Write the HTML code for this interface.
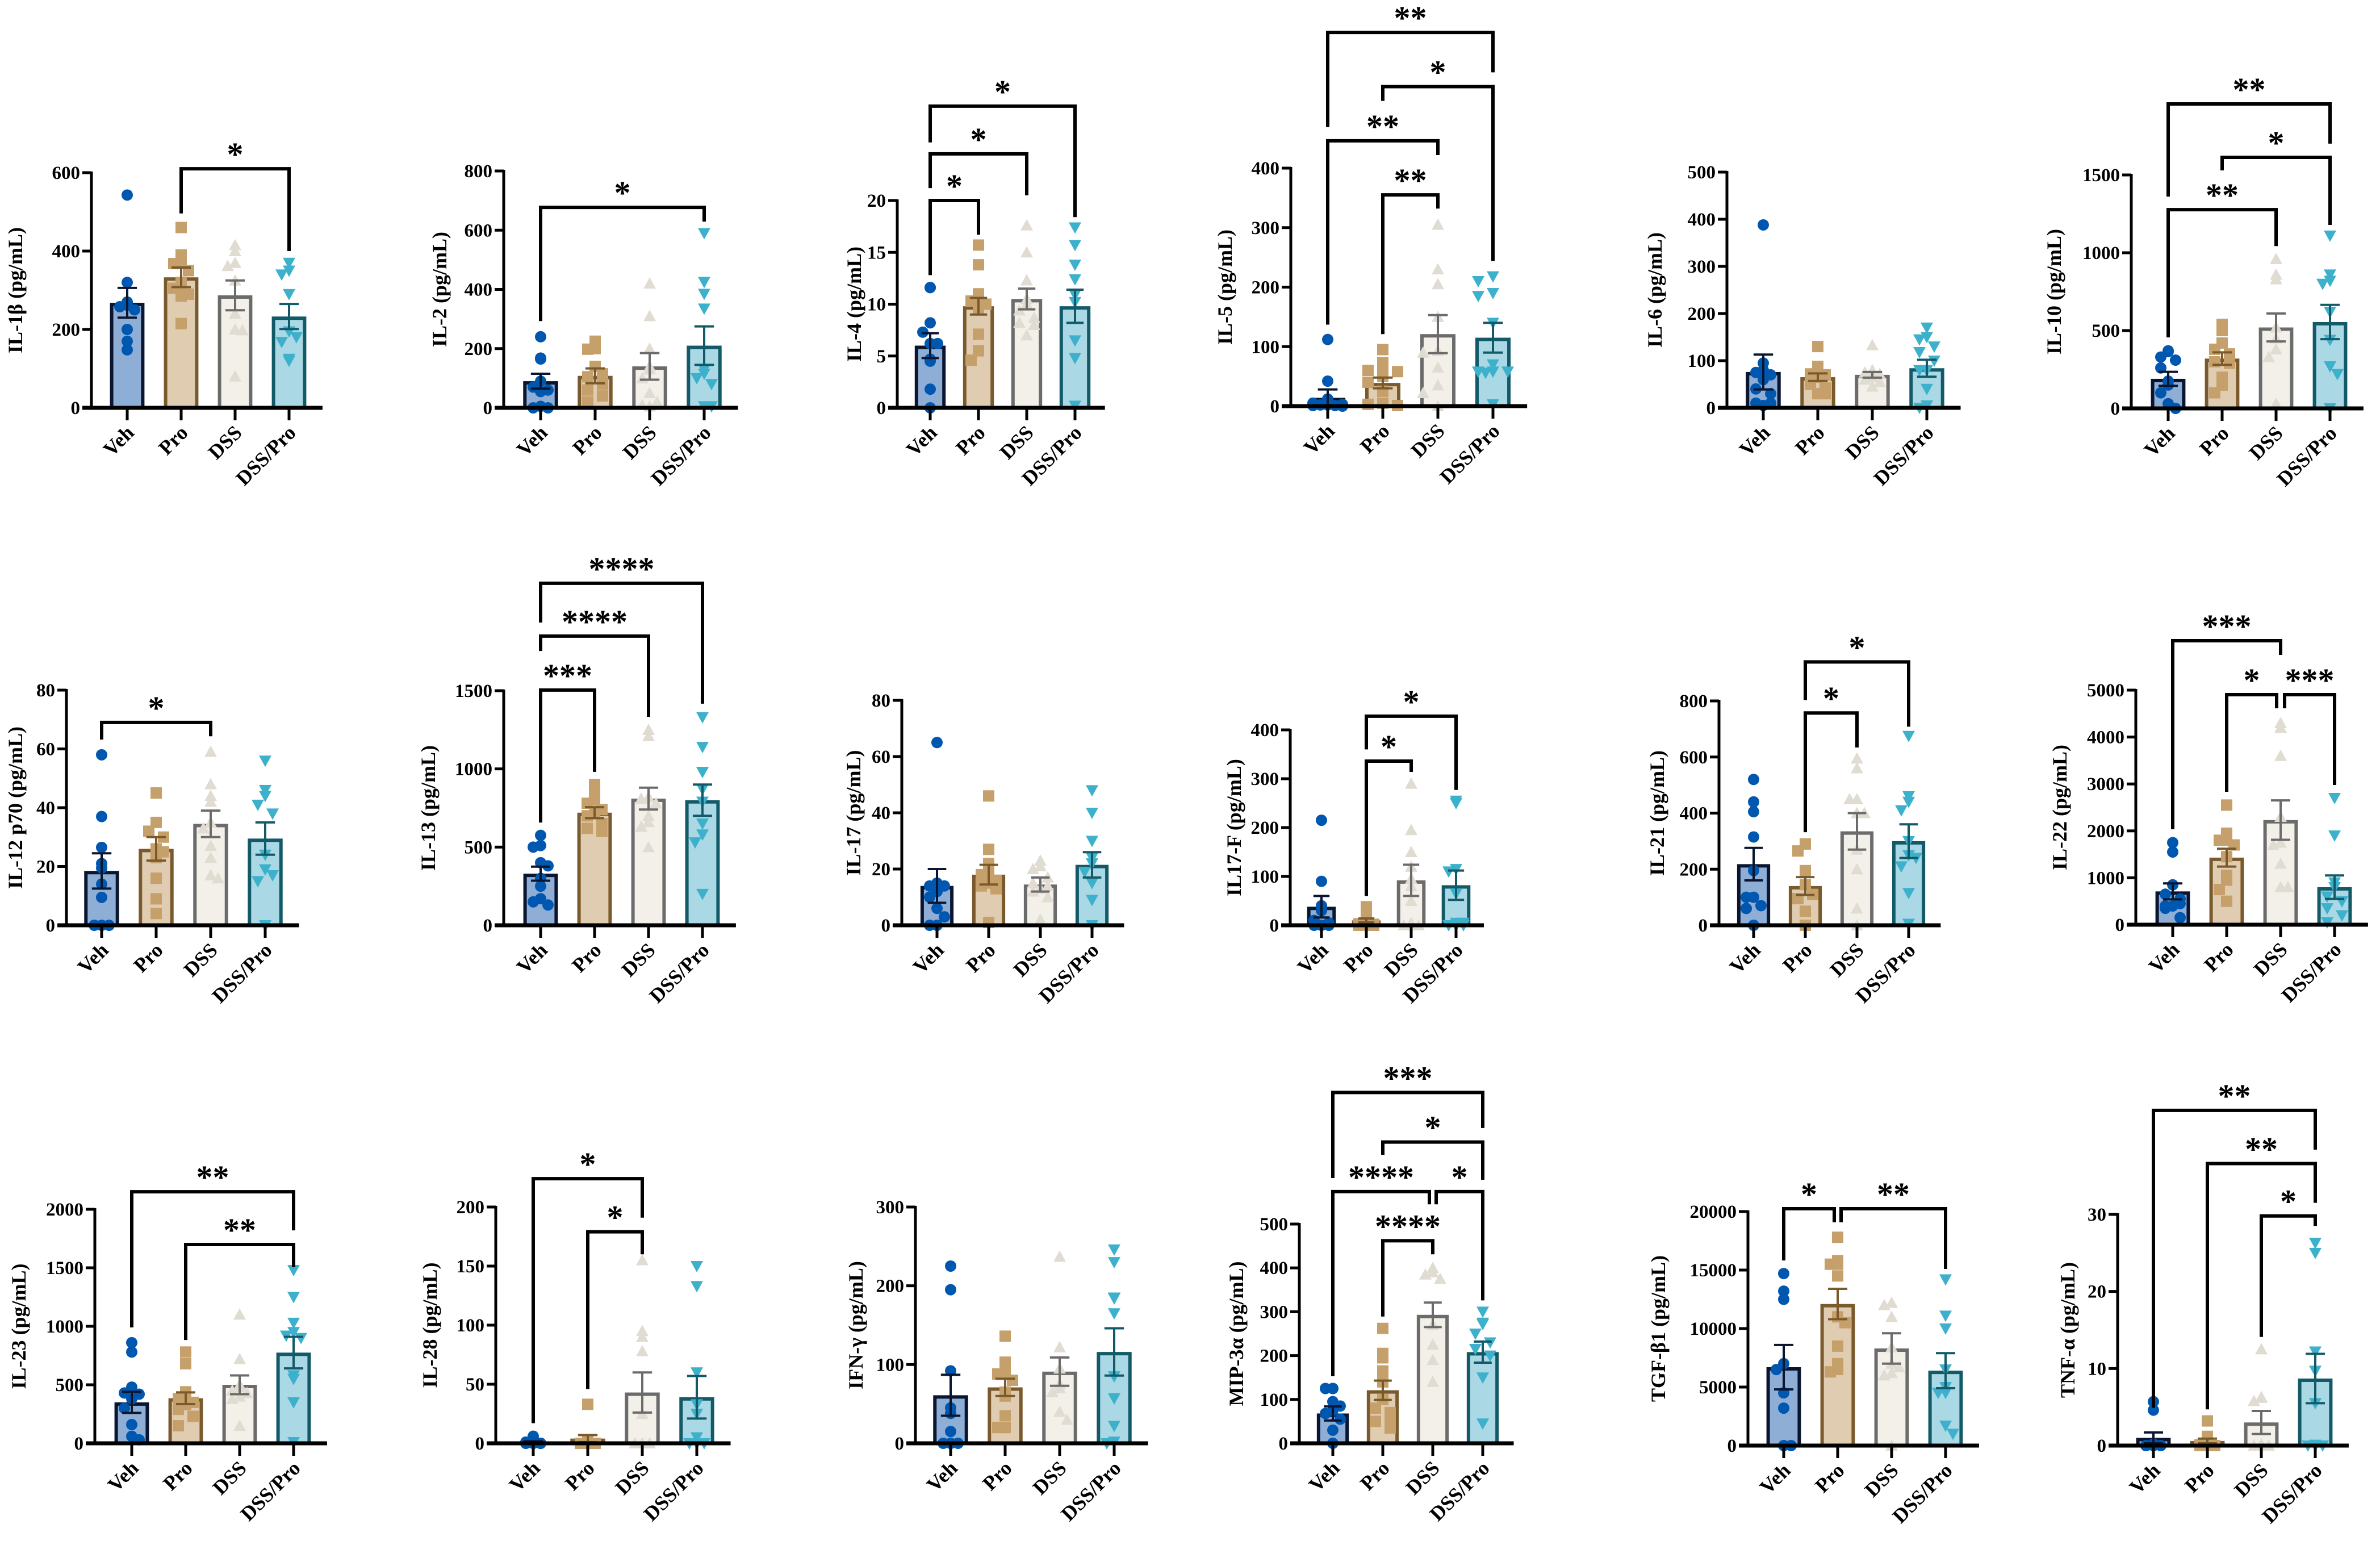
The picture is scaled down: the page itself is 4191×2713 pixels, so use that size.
<!DOCTYPE html>
<html><head><meta charset="utf-8"><style>
html,body{margin:0;padding:0;background:#fff;}
svg{display:block;}
text{font-family:"Liberation Serif","Times New Roman",serif;font-weight:bold;fill:#000;}
</style></head><body>
<svg id="fig" width="4191" height="2713" viewBox="0 0 4191 2713" xmlns="http://www.w3.org/2000/svg"></svg>
<script>
const groups = ["Veh","Pro","DSS","DSS/Pro"];
const titles = ["IL-1β (pg/mL)","IL-2 (pg/mL)","IL-4 (pg/mL)","IL-5 (pg/mL)","IL-6 (pg/mL)","IL-10 (pg/mL)",
"IL-12 p70 (pg/mL)","IL-13 (pg/mL)","IL-17 (pg/mL)","IL17-F (pg/mL)","IL-21 (pg/mL)","IL-22 (pg/mL)",
"IL-23 (pg/mL)","IL-28 (pg/mL)","IFN-γ (pg/mL)","MIP-3α (pg/mL)","TGF-β1 (pg/mL)","TNF-α (pg/mL)"];
const yMax = [600,800,20,400,500,1500, 80,1500,80,400,800,5000, 2000,200,300,500,20000,30];
const tickStep = [200,200,5,100,100,500, 20,500,20,100,200,1000, 500,50,100,100,5000,10];
const means = [
[268,333,287,233],[90,108,140,210],[6.0,9.8,10.5,9.8],[14,39,121,115],[76,65,70,84],[190,320,520,555],
[18.5,26,34.5,29.5],[330,720,810,800],[14,18,14.5,21.5],[38,10,92,82],[218,140,335,300],[710,1430,2230,800],
[350,385,500,775],[1,4,43,39],[61,71,91,116],[68,121,293,208],[6700,12100,8300,6400],[1,0.6,3.0,8.7]];
const sems = [
[38,25,38,32],[25,25,45,65],[1.2,0.8,1.0,1.6],[14,9,32,25],[37,8,6,18],[45,40,90,110],
[6,4,4.5,5.5],[45,35,70,100],[6,3.5,2.5,4.5],[22,4,32,30],[58,32,65,60],[170,190,420,250],
[90,50,80,135],[0.7,3,17,18],[26,11,18,30],[16,22,28,24],[1900,1300,1300,1500],[0.7,0.3,1.5,3.2]];
const points = [
[[543,320,270,262,250,258,200,170,148],[460,390,370,368,350,320,305,310,285,290,215],[400,415,370,362,325,240,200,198,80],[370,340,350,290,195,180,168,120,125]],
[[240,168,165,90,70,60,55,5,0,0],[225,200,198,140,115,105,80,60,40,20],[420,310,200,140,130,100,50,20,5,10],[590,425,385,335,130,115,100,80,5,5]],
[[11.6,11.6,8.2,7.3,6.2,6.2,4.7,4.5,1.8,0],[15.7,13.8,11.0,10.6,10.3,10.0,9.6,7.1,5.5,4.6],[17.6,15.0,12.3,10.5,10.0,9.4,8.7,8.0,8.2,7.0],[17.4,15.7,13.8,12.4,10.9,10.2,6.5,4.8,0.2]],
[[112,42,12,5,3,2,2,1,1,0],[95,73,60,58,55,50,40,25,5,3,1],[305,230,205,150,93,90,65,35,22,0],[218,210,190,185,140,70,58,58,58,56,3]],
[[388,95,80,75,70,60,40,30,10,10,5],[130,88,78,72,70,65,50,42,30,30],[133,80,78,75,72,65,60,55,45],[170,150,145,130,118,100,80,80,40,5,0]],
[[370,365,330,310,260,175,150,100,30,0],[540,500,420,380,350,300,290,200,150,100],[960,860,830,520,450,380,330,30],[1110,860,800,820,620,440,270,220,0]],
[[58,37,26.5,21,19.5,14,9.5,0,0,0],[45,45,35,32,30,26,25,23,16,9,4],[59,48,44,42,35,33,27,23,17,16],[56,46,44,41,38,24,19,17,15,0]],
[[575,510,500,400,380,300,250,170,130,150],[900,870,800,780,740,720,700,650,620,600],[1250,1210,820,810,780,700,660,630,500],[1330,1140,980,980,870,790,650,580,530,200]],
[[65,15,14,14,14,12,10,6,3,0,0],[46,27,22,19,18,16,15,14,13,1],[23,21,20,17,15,14,13,12,10,2],[48,40,30,24,22,19,15,9,0]],
[[215,90,40,30,10,5,3,0,0,0],[38,28,5,3,2,0,0,0,0],[290,195,150,120,95,80,50,5,0,0],[255,250,115,110,65,5,5,0,0,0]],
[[520,440,405,315,195,100,100,70,60,0],[290,290,265,195,145,110,95,50,0],[595,560,450,450,400,400,270,200,60,0],[675,460,440,410,300,250,240,210,115,5]],
[[1750,1550,850,650,550,450,400,400,350,150],[2550,1950,1800,1800,1700,1450,1050,950,750,500],[4300,4200,3600,2300,1750,1700,1300,800,800],[2700,1900,900,800,600,500,500,350,200,50]],
[[860,780,480,430,420,380,300,160,60,30],[780,680,440,400,380,350,330,290,230,150],[1100,720,500,480,450,430,400,380,150],[1480,1250,1030,950,920,900,580,550,350,10]],
[[6,2,1,0,0,0,0,0,0,0],[33,2,1,0,0,0,0,0,0],[155,95,90,78,25,0,0,0,0,0],[150,133,60,33,25,5,0,0,0,0]],
[[225,195,92,45,38,15,0,0,0,0],[136,103,90,90,88,80,65,60,35,20,20],[237,122,95,75,70,65,40,30],[246,230,185,184,165,85,57,22,0,2]],
[[125,125,125,95,85,75,68,55,30,0],[262,205,195,165,140,100,80,70,50,45,35],[400,390,385,375,270,270,225,190,140],[300,275,272,250,230,215,200,150,45]],
[[14700,13200,12500,7000,6500,4500,3200,0,0],[17800,15800,15500,15500,14500,11000,10500,8500,7000,6500,6300],[12200,12200,12000,11000,8400,7000,6700,6200,6000,0],[14200,11100,10000,6500,5000,4500,4500,1700,1000]],
[[5.7,4.6,0.2,0,0,0,0,0,0],[3.2,1.2,0.6,0.1,0,0,0,0,0],[12.5,6.3,6.2,5.8,0.2,0,0,0,0],[26.3,25.0,12.2,9.7,5.5,0.1,0,0,0]]];
const sigs = [
[[1,3,610,496,400,"*"]],
[[0,3,677,293,629,"*"]],
[[0,1,20.0,12.8,16.7,"*"],[0,2,24.5,21.2,20.5,"*"],[0,3,29.1,25.6,18.4,"*"]],
[[1,2,355,121,332,"**"],[0,2,446,137,422,"**"],[1,3,537,513,244,"*"],[0,3,628,469,561,"**"]],
[],
[[0,2,1277,456,1043,"**"],[1,3,1613,1529,1179,"*"],[0,3,1956,1361,1701,"**"]],
[[0,2,69,63.2,64.3,"*"]],
[[0,1,1504,657,981,"***"],[0,2,1849,1754,1333,"****"],[0,3,2187,1936,1417,"****"]],
[],
[[1,2,336,60,314,"*"],[1,3,428,360,277,"*"]],
[[1,2,757,332,634,"*"],[1,3,939,803,708,"*"]],
[[0,2,6053,2034,5750,"***"],[1,2,4903,2833,4613,"*"],[2,3,4903,4613,2978,"***"]],
[[0,3,2150,990,1820,"**"],[1,3,1699,883,1505,"**"]],
[[0,2,224,17,191,"*"],[1,2,179,46,160,"*"]],
[],
[[1,2,462,289,431,"****"],[0,2,574,153,545,"****"],[2,3,574,545,326,"*"],[1,3,687,658,601,"*"],[0,3,800,605,719,"***"]],
[[0,1,20240,15820,19080,"*"],[1,3,20240,19080,15100,"**"]],
[[2,3,29.8,14.1,28.5,"*"],[1,3,36.6,4.7,31.5,"**"],[0,3,43.5,4.9,38.4,"**"]]];
const layout = [
[161,224,95,718,304,27],[887,952,96,718,301,774],[1580,1638,85,718,353,1504],[2273,2338,97,715,296,2157],[3041,3105,96,718,303,2914],[3753,3818,95,719,308,3617],
[117,179,96,1629,1215,27],[887,952,95,1629,1216,754],[1588,1650,91,1629,1233,1503],[2272,2327,79,1629,1285,2173],[3027,3088,91,1629,1234,2918],[3761,3826,95,1628,1215,3627],
[167,232,95,2541,2129,33],[873,939,96,2541,2125,757],[1612,1674,96,2541,2125,1507],[2288,2347,88,2541,2155,2177],[3078,3141,95,2545,2133,2920],[3729,3792,95,2545,2138,3641]];
const fills=["#8eaed6","#e0ccb1","#f3f0ea","#aad8e4"];
const strokes=["#0a1630","#7a5a2c","#6b6b6b","#135a68"];
const ptCol=["#0057b0","#c6a06a","#e1dcd2","#3db0cc"];
const ns="http://www.w3.org/2000/svg";
const svg=document.getElementById('fig');
function mk(tag,attrs,parent){const e=document.createElementNS(ns,tag);for(const k in attrs)e.setAttribute(k,attrs[k]);(parent||svg).appendChild(e);return e;}
const jointOff={"11-1-2":[0,-7],"11-2-3":[7,0],"15-0-2":[0,-6],"15-2-3":[6,0],"16-0-1":[0,-6],"16-1-3":[6,0]};

for(let p=0;p<18;p++){
  const [ax,b0,sp,y0,yt,tx]=layout[p];
  const g=mk('g',{});
  
  
  const Y=v=>y0-(v/yMax[p])*(y0-yt);
  const X=i=>b0+i*sp;
  const bw=sp*0.64;
  const xEnd=X(3)+sp*0.62;
  for(let i=0;i<4;i++){
    const top=Y(means[p][i]);
    const r=mk('rect',{x:X(i)-bw/2+3,y:top+3,width:bw-6,height:Math.max(0,y0-top-3),fill:fills[i],stroke:strokes[i],'stroke-width':6},g);
    
    
  }
  const R=10;
  const maxOff=bw*0.42;
  for(let i=0;i<4;i++){
    const placed=[];
    const vals=points[p][i].slice().sort((a,b)=>b-a);
    let cyc=0;
    vals.forEach(v=>{
      const py=Math.min(Y(v),y0+4);
      const cands=[0];for(let k=1;k*R*1.3<=maxOff;k++){cands.push(-k*R*1.3,k*R*1.3);}
      let dx=null;
      for(const c of cands){if(!placed.some(q=>Math.abs(q[0]-c)<R*1.8&&Math.abs(q[1]-py)<R*1.8)){dx=c;break;}}
      if(dx===null){dx=cands[cyc%cands.length];cyc++;}
      placed.push([dx,py]);
      const cx=X(i)+dx;
      let m;
      if(i===0) m=mk('circle',{cx:cx,cy:py,r:R,fill:ptCol[i]},g);
      else if(i===1) m=mk('rect',{x:cx-R,y:py-R,width:2*R,height:2*R,fill:ptCol[i]},g);
      else if(i===2) m=mk('polygon',{points:`${cx},${py-R*1.1} ${cx-R*1.1},${py+R*0.9} ${cx+R*1.1},${py+R*0.9}`,fill:ptCol[i]},g);
      else m=mk('polygon',{points:`${cx},${py+R*1.1} ${cx-R*1.1},${py-R*0.9} ${cx+R*1.1},${py-R*0.9}`,fill:ptCol[i]},g);
      
      
    });
  }
  for(let i=0;i<4;i++){
    const hi=Y(means[p][i]+sems[p][i]), lo=Y(Math.max(0,means[p][i]-sems[p][i]));
    const cw=bw*0.28;
    const e=mk('path',{d:`M${X(i)},${lo}V${hi}M${X(i)-cw},${hi}H${X(i)+cw}M${X(i)-cw},${lo}H${X(i)+cw}`,stroke:strokes[i],'stroke-width':4,fill:'none'},g);
    
    
  }
  const ya=mk('line',{x1:ax,y1:yt-2,x2:ax,y2:y0,stroke:'#000','stroke-width':5},g);
  
  
  const xa=mk('line',{x1:ax-16,y1:y0,x2:xEnd,y2:y0,stroke:'#000','stroke-width':7},g);
  
  
  for(let v=0;v<=yMax[p]+1e-9;v+=tickStep[p]){
    mk('line',{x1:ax-16,y1:Y(v),x2:ax,y2:Y(v),stroke:'#000','stroke-width':5},g);
    const t=mk('text',{x:ax-20,y:Y(v)+11,'font-size':33,'text-anchor':'end'},g);
    t.textContent=String(v);
    
    
  }
  for(let i=0;i<4;i++){
    mk('line',{x1:X(i),y1:y0,x2:X(i),y2:y0+22,stroke:'#000','stroke-width':5},g);
    const lx=X(i)+14, ly=y0+46;
    const t=mk('text',{x:lx,y:ly,'font-size':36,'text-anchor':'end',transform:`rotate(-45 ${lx} ${ly})`},g);
    t.textContent=groups[i];
    
    
  }
  const ym=(y0+yt)/2;
  const tt=mk('text',{x:tx+12,y:ym,'font-size':36,'text-anchor':'middle',transform:`rotate(-90 ${tx+12} ${ym})`},g);
  tt.textContent=titles[p];
  
  
  sigs[p].forEach(s=>{
    const off=jointOff[p+'-'+s[0]+'-'+s[1]]||[0,0];
    const xa1=X(s[0])+off[0], xb1=X(s[1])+off[1];
    const yl=Y(s[2]);
    const br=mk('path',{d:`M${xa1},${Y(s[3])}V${yl}H${xb1}V${Y(s[4])}`,stroke:'#000','stroke-width':6,fill:'none'},g);
    
    
    const st=mk('text',{x:(xa1+xb1)/2,y:yl-6,'font-size':58,'text-anchor':'middle'},g);
    st.textContent=s[5];
    
    
  });
}
</script>
</body></html>
